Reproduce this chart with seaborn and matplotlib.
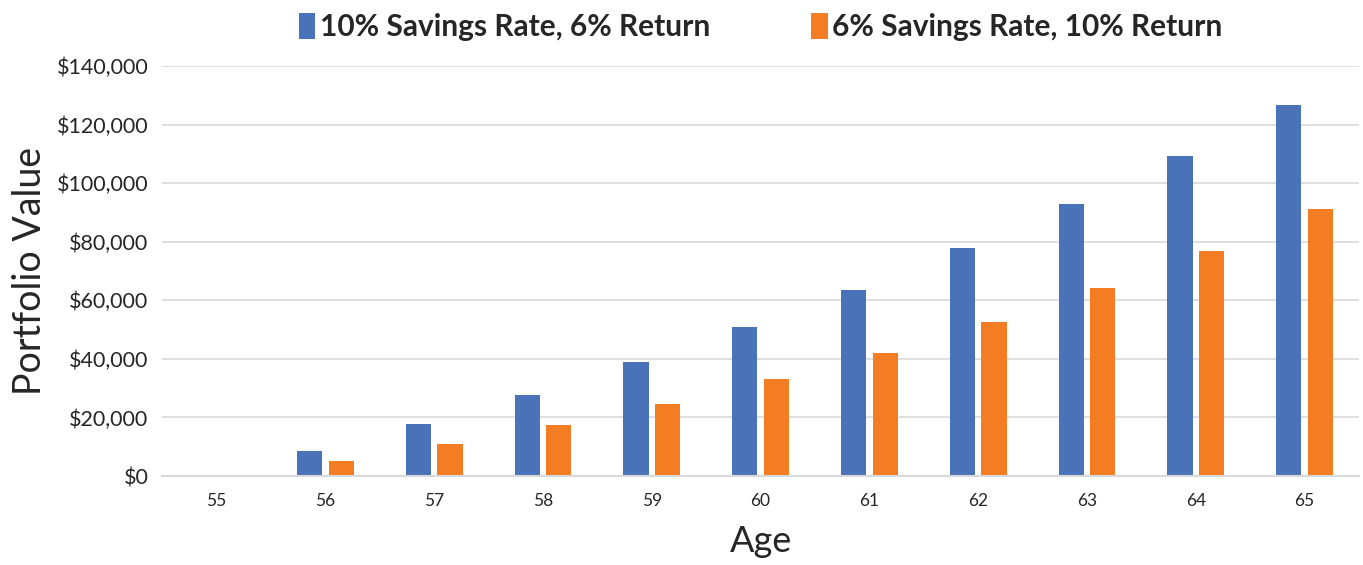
import pandas as pd
import matplotlib.pyplot as plt
import seaborn as sns
from matplotlib.ticker import FuncFormatter

# --- DATA ---
ages = [55, 56, 57, 58, 59, 60, 61, 62, 63, 64, 65]
series_a = "10% Savings Rate, 6% Return"
series_b = "6% Savings Rate, 10% Return"
values_a = [0, 8500, 17800, 27700, 38900, 50900, 63500, 77800, 92900, 109300, 126700]
values_b = [0, 5100, 10900, 17400, 24600, 33100, 42000, 52600, 64200, 76800, 91200]

df = pd.DataFrame({
    "Age": ages * 2,
    "Value": values_a + values_b,
    "Series": [series_a] * len(ages) + [series_b] * len(ages),
})

sns.set_style("white")
plt.rcParams['font.family'] = ['Lato', 'DejaVu Sans']

fig = plt.figure(figsize=(13.63, 5.65), dpi=100)
ax = fig.add_axes([0.119, 0.1575, 0.878, 0.7257])

sns.barplot(data=df, x="Age", y="Value", hue="Series",
            palette=["#4A72B8", "#F47C22"], saturation=1, width=0.58, gap=0.2,
            edgecolor="none", ax=ax, legend=True)

ax.set_ylim(0, 140000)
ax.set_yticks(range(0, 140001, 20000))
ax.yaxis.set_major_formatter(FuncFormatter(lambda v, p: f"${v:,.0f}"))
ax.grid(True, axis='y', color='#d9d9d9', linewidth=1.2)
ax.set_axisbelow(True)
for s in ['top', 'right', 'left']:
    ax.spines[s].set_visible(False)
ax.spines['bottom'].set_color('#d9d9d9')
ax.spines['bottom'].set_linewidth(1.5)
ax.tick_params(axis='y', length=0, labelsize=15.5, pad=10, labelcolor='#262626')
ax.tick_params(axis='x', length=0, labelsize=12.5, pad=12, labelcolor='#262626')

ax.set_xlabel("Age", fontsize=26, color='#262626', labelpad=12)
ax.set_ylabel("Portfolio Value", fontsize=27, color='#262626', labelpad=6)

handles, labels = ax.get_legend_handles_labels()
ax.legend(handles, labels, loc='center', bbox_to_anchor=(0.5, 1.095), ncol=2,
          frameon=False, prop={'size': 21.5, 'weight': 'bold'},
          handlelength=0.55, handleheight=1.0, handletextpad=0.15, columnspacing=3.4)

plt.savefig("out.png", dpi=100)
